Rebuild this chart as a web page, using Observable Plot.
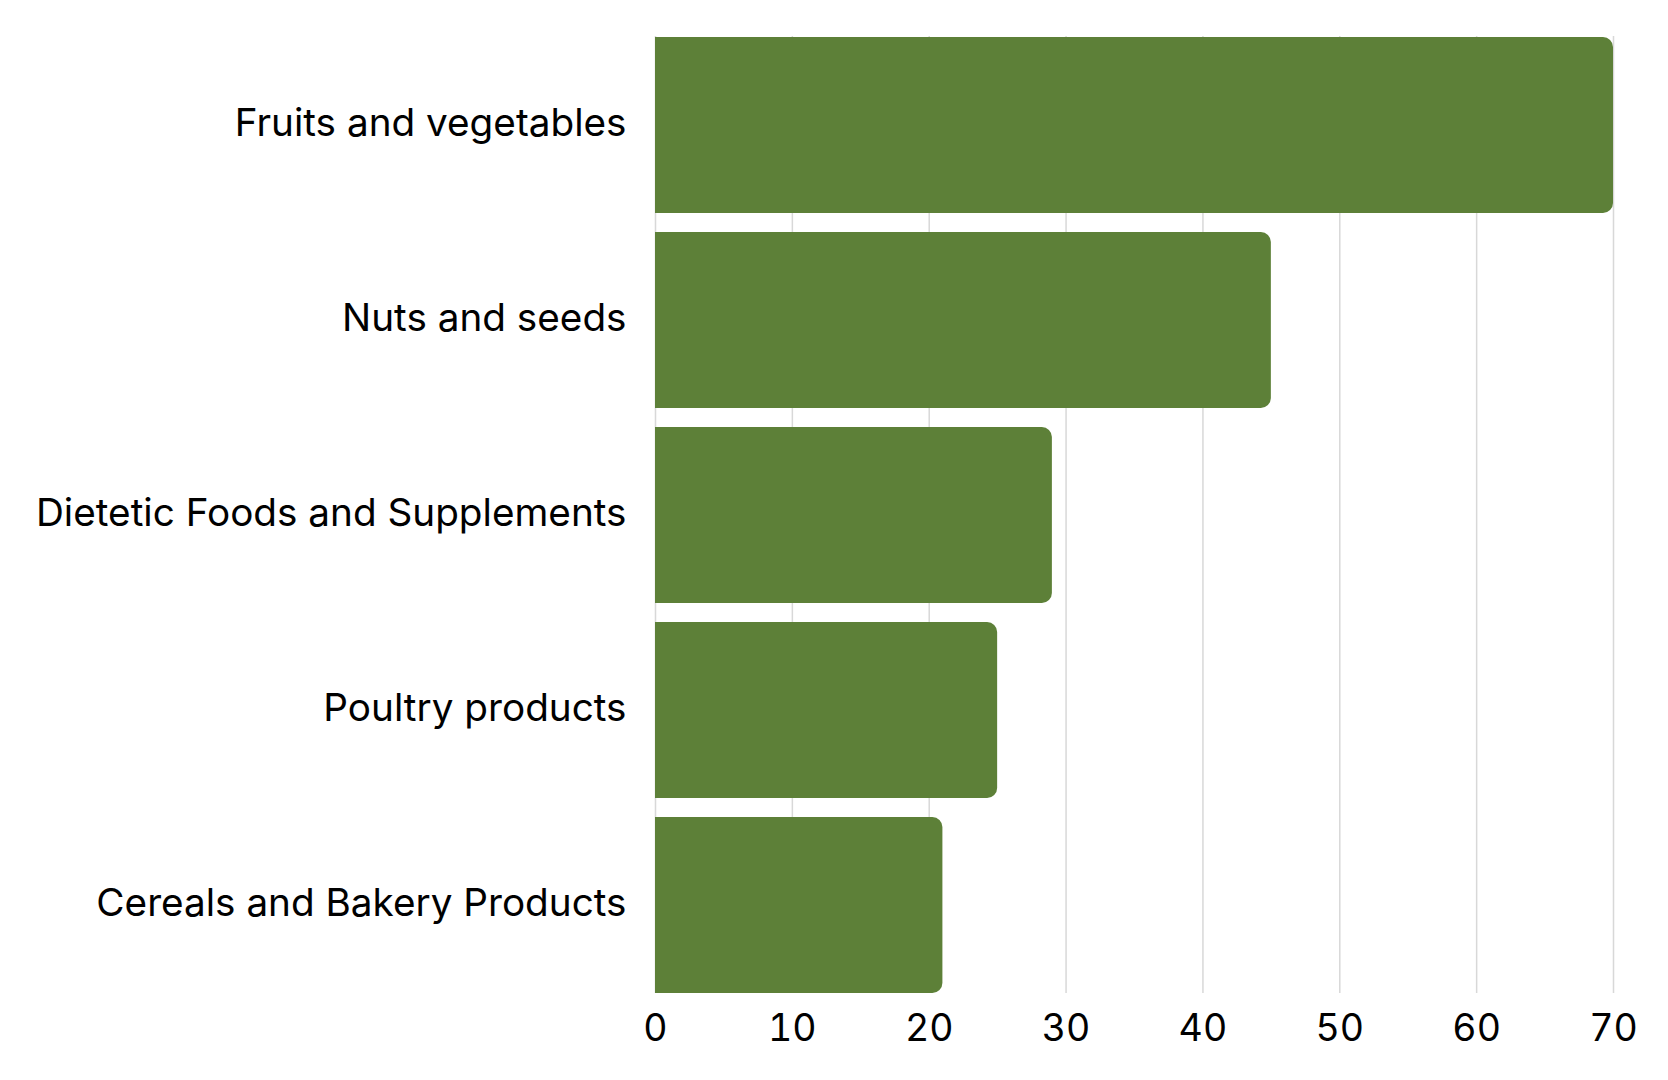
<!DOCTYPE html>
<html>
<head>
<meta charset="utf-8">
<script src="https://cdn.jsdelivr.net/npm/d3@7"></script>
<script src="https://cdn.jsdelivr.net/npm/@observablehq/plot@0.6"></script>
<style>
  html, body { margin: 0; padding: 0; background: #fff; }
  #chart svg { display: block; }
</style>
</head>
<body>
<div id="chart"></div>
<script>
const categories = [
  "Fruits and vegetables",
  "Nuts and seeds",
  "Dietetic Foods and Supplements",
  "Poultry products",
  "Cereals and Bakery Products"
];
const values = [70, 45, 29, 25, 21];
const xTicks = [0, 10, 20, 30, 40, 50, 60, 70];

const data = categories.map((c, i) => ({category: c, value: values[i]}));

const chart = Plot.plot({
  width: 1668,
  height: 1080,
  marginLeft: 655,
  marginRight: 55,
  marginTop: 36,
  marginBottom: 87,
  style: {fontFamily: "Inter, sans-serif", color: "#000", background: "#fff"},
  x: {domain: [0, 70], ticks: xTicks},
  y: {domain: categories, paddingInner: 0.1, paddingOuter: 0},
  marks: [
    Plot.ruleX(xTicks, {stroke: "#d8d8d8", strokeWidth: 1.5}),
    Plot.barX(data, {x: "value", y: "category", fill: "#5d8038", rx2: 10}),
    Plot.axisX({ticks: xTicks, tickSize: 0, tickPadding: 21, fontSize: 37.5, label: null}),
    Plot.axisY({tickSize: 0, tickPadding: 29, fontSize: 38.7, dy: -2, label: null})
  ]
});
document.getElementById("chart").appendChild(chart);
</script>
</body>
</html>
